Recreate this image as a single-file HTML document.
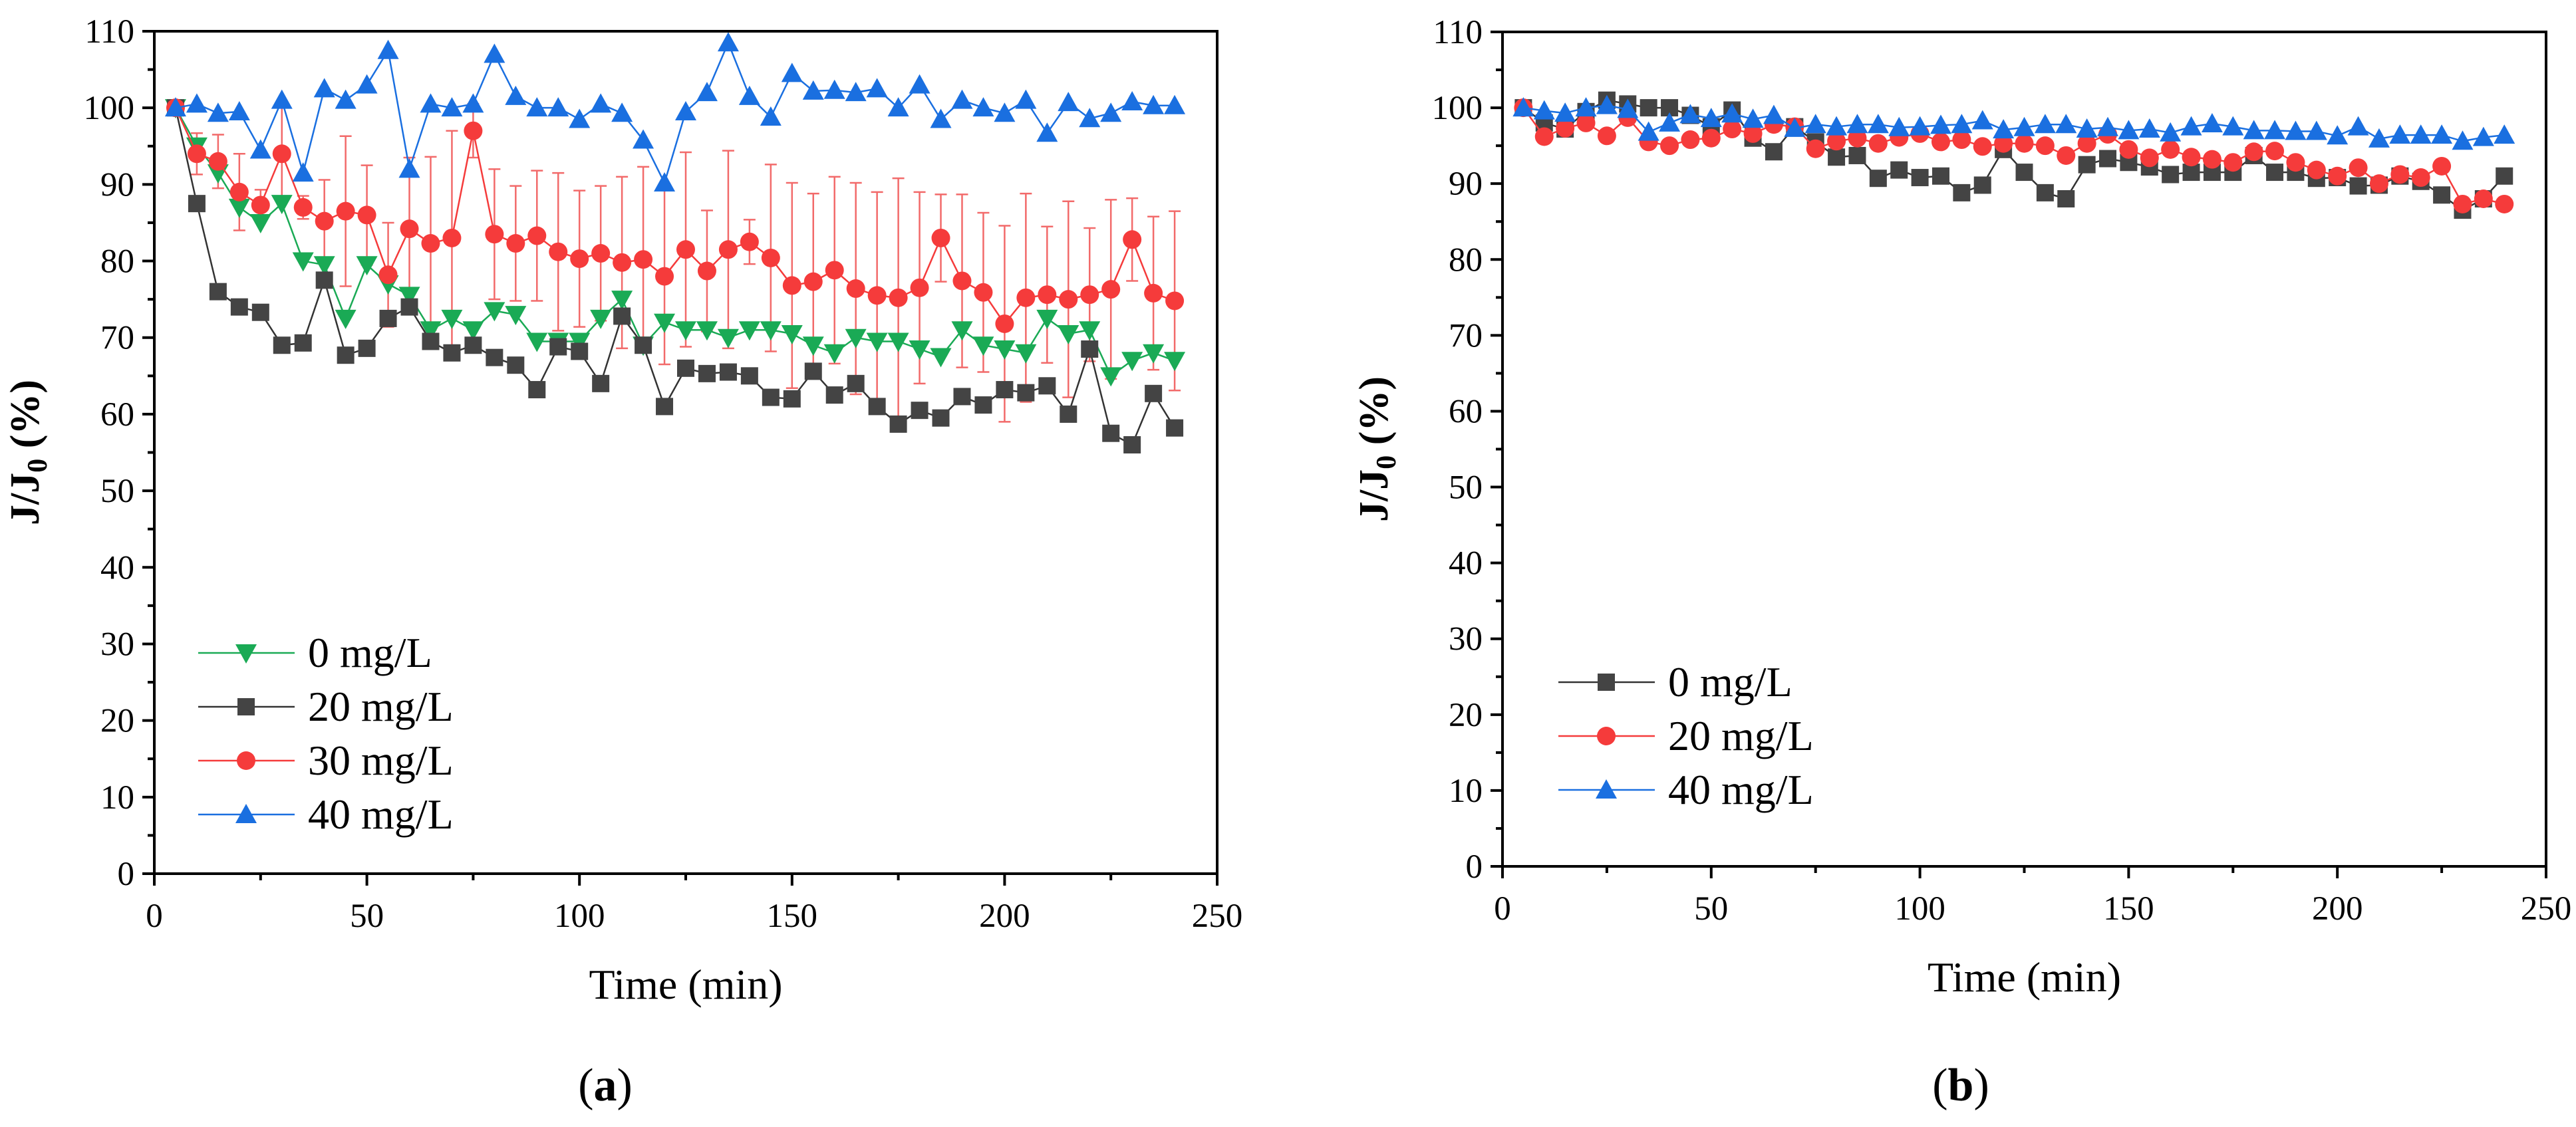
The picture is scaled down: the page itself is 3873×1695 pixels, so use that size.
<!DOCTYPE html>
<html><head><meta charset="utf-8"><style>
html,body{margin:0;padding:0;background:#fff;}
svg{display:block;font-family:"Liberation Serif",serif;}
</style></head><body>
<svg id="chart" width="3873" height="1695" viewBox="0 0 3873 1695" xmlns="http://www.w3.org/2000/svg"></svg>
<script>
const xValues=[5,10,15,20,25,30,35,40,45,50,55,60,65,70,75,80,85,90,95,100,105,110,115,120,125,130,135,140,145,150,155,160,165,170,175,180,185,190,195,200,205,210,215,220,225,230,235,240];
const xTicks=[0,50,100,150,200,250];
const yTicks=[0,10,20,30,40,50,60,70,80,90,100,110];
const a0=[100,95,91.5,87,85,87.5,80,79.5,72.5,79.5,77,75.5,71,72.5,71,73.5,73,69.5,69.5,69.5,72.5,75,69,72,71,71,70,71,71,70.5,69,68,70,69.5,69.5,68.5,67.5,71,69,68.5,68,72.5,70.5,71,65,67,68,67];
const a20=[100,87.5,76,74,73.3,69,69.3,77.5,67.7,68.6,72.5,74,69.5,68,69,67.4,66.4,63.2,68.8,68.2,64,72.8,69,61,66,65.3,65.5,65,62.2,62,65.6,62.5,64,61,58.7,60.5,59.5,62.3,61.2,63.2,62.8,63.7,60,68.5,57.5,56,62.7,58.2];
const a30=[100,94,93,89,87.3,94,87,85.2,86.5,86,78.2,84.2,82.3,83,97,83.5,82.3,83.3,81.2,80.3,81,79.8,80.2,78,81.5,78.7,81.5,82.5,80.4,76.8,77.3,78.8,76.4,75.5,75.2,76.5,83,77.4,75.9,71.8,75.2,75.6,75,75.6,76.3,82.8,75.8,74.8];
const a30err=[0,2.7,3.5,5,2,6,1.5,5.4,9.8,6.5,6.8,9.3,11.3,14,3.5,8.5,7.5,8.5,10.3,8.9,8.8,11.2,12.1,11.5,12.7,7.9,12.9,2.9,12.2,13.4,11.5,12.2,13.8,13.5,15.6,12.5,5.7,11.3,10.4,12.8,13.6,8.9,12.8,8.7,11.7,5.4,10,11.7];
const a40=[100,100.5,99.3,99.5,94.5,101,91.5,102.5,101,103,107.5,92,100.5,100,100.5,107,101.5,100,100,98.5,100.5,99.3,95.8,90.2,99.5,102,108.5,101.5,98.8,104.5,102.2,102.3,102,102.5,100,103,98.5,101,100,99.3,101,96.7,100.7,98.6,99.3,100.8,100.3,100.3];
const b0=[100,98,97.2,99.5,101,100.5,100,100,99,97.5,99.7,96,94.2,97.5,95.5,93.5,93.7,90.7,91.8,90.8,91,88.8,89.8,94.5,91.5,88.8,88,92.5,93.3,92.8,92.2,91.2,91.5,91.5,91.5,93.7,91.5,91.5,90.7,90.8,89.7,89.8,91,90.3,88.5,86.5,88,91];
const b20=[100,96.2,97.3,98,96.3,98.7,95.5,95,95.8,96,97.2,96.6,97.8,97.5,94.6,95.6,96,95.3,96.1,96.6,95.5,95.8,94.9,95.3,95.3,95,93.7,95.3,96.5,94.5,93.4,94.5,93.5,93.2,92.8,94.2,94.3,92.8,91.8,91,92.1,90,91.2,90.8,92.3,87.3,88,87.3];
const b40=[100,99.6,99.3,100,100.3,99.8,96.8,98,99.1,98.6,99.2,98.5,99,97.3,97.8,97.5,97.8,97.8,97.4,97.5,97.7,97.8,98.3,97.1,97.4,97.8,97.8,97.2,97.4,97,97.2,96.7,97.5,97.9,97.5,97,97,96.9,96.9,96.3,97.5,95.9,96.4,96.4,96.4,95.6,96.1,96.4];

const NS="http://www.w3.org/2000/svg";
const svg=document.getElementById('chart');
function mk(tag,attrs,parent,name){const e=document.createElementNS(NS,tag);for(const k in attrs)e.setAttribute(k,attrs[k]);


(parent||svg).appendChild(e);return e;}
function marker(g,shape,cx,cy,color,name){
  const s=13;
  if(shape==='sq') return mk('rect',{x:cx-s,y:cy-s,width:2*s,height:2*s,fill:color},g,name);
  if(shape==='ci') return mk('circle',{cx:cx,cy:cy,r:s+1,fill:color},g,name);
  if(shape==='up') return mk('polygon',{points:`${cx},${cy-s-3} ${cx-s-3},${cy+s} ${cx+s+3},${cy+s}`,fill:color},g,name);
  if(shape==='dn') return mk('polygon',{points:`${cx},${cy+s+3} ${cx-s-3},${cy-s} ${cx+s+3},${cy-s}`,fill:color},g,name);
}
function panel(P){
  const g=mk('g',{},svg,P.name);
  const X=v=>P.l+(v-0)/250*(P.r-P.l);
  const Y=v=>P.b-(v-0)/110*(P.b-P.t);
  P.series.forEach(s=>{ if(!s.err) return;
    s.data.forEach((v,i)=>{ if(!s.err[i]) return; const x=X(xValues[i]);
      mk('path',{d:`M${x},${Y(v-s.err[i])}V${Y(v+s.err[i])}M${x-9},${Y(v+s.err[i])}H${x+9}M${x-9},${Y(v-s.err[i])}H${x+9}`,stroke:s.light,'stroke-width':2.5,fill:'none'},g,'error-bar');});
  });
  P.series.forEach(s=>{
    const sg=mk('g',{},g,s.key+'-series');
    mk('polyline',{points:s.data.map((v,i)=>X(xValues[i])+','+Y(v)).join(' '),fill:'none',stroke:s.line,'stroke-width':2.5},sg,s.key+'-line');
    s.data.forEach((v,i)=>marker(sg,s.shape,X(xValues[i]),Y(v),s.color,s.key+'-point'));
  });
  mk('rect',{x:P.l,y:P.t,width:P.r-P.l,height:P.b-P.t,fill:'none',stroke:'#000','stroke-width':4},g,'plot-frame');
  xTicks.forEach(t=>{const x=X(t);mk('line',{x1:x,x2:x,y1:P.b,y2:P.b+18,stroke:'#000','stroke-width':4},g,'x-tick');
    const tx=mk('text',{x:x,y:P.b+80,'font-size':51,'text-anchor':'middle'},g,'x-tick-label');tx.textContent=t;
    if(t<250){const xm=X(t+25);mk('line',{x1:xm,x2:xm,y1:P.b,y2:P.b+10,stroke:'#000','stroke-width':4},g,'x-minor-tick');}});
  yTicks.forEach(t=>{const y=Y(t);mk('line',{x1:P.l-18,x2:P.l,y1:y,y2:y,stroke:'#000','stroke-width':4},g,'y-tick');
    const tx=mk('text',{x:P.l-30,y:y+17,'font-size':51,'text-anchor':'end'},g,'y-tick-label');tx.textContent=t;
    if(t<110){const ym=Y(t+5);mk('line',{x1:P.l-10,x2:P.l,y1:ym,y2:ym,stroke:'#000','stroke-width':4},g,'y-minor-tick');}});
  const xt=mk('text',{x:(P.l+P.r)/2,y:P.b+188,'font-size':64,'text-anchor':'middle'},g,'x-axis-title');xt.textContent='Time (min)';
  const yt=mk('text',{x:0,y:0,'font-size':62,'font-weight':'bold','text-anchor':'middle',transform:`translate(${P.yx},${(P.t+P.b)/2}) rotate(-90)`},g,'y-axis-title');
  yt.innerHTML='J/J<tspan font-size="42" dy="12">0</tspan><tspan dy="-12"> (%)</tspan>';
  P.series.forEach((s,i)=>{const y=P.legY+i*P.legDy;
    const lg=mk('g',{},g,'legend-entry');
    mk('line',{x1:P.legX,x2:P.legX+145,y1:y,y2:y,stroke:s.line,'stroke-width':2.5},lg,'legend-line');
    marker(lg,s.shape,P.legX+72,y,s.color,'legend-marker');
    const t=mk('text',{x:P.legX+165,y:y+21,'font-size':64},lg,'legend-label');t.textContent=s.label;});
  const pl=mk('text',{x:P.labX,y:1655,'font-size':70,'text-anchor':'middle'},g,'panel-label');
  pl.innerHTML='(<tspan font-weight="bold">'+P.lab+'</tspan>)';
}
panel({name:'panel-a',l:232,r:1830,t:47,b:1314,yx:58,legX:298,legY:982,legDy:81,labX:910,lab:'a',series:[
 {key:'0mgL',label:'0 mg/L',data:a0,shape:'dn',color:'#1aaa55',line:'#1aaa55'},
 {key:'20mgL',label:'20 mg/L',data:a20,shape:'sq',color:'#444',line:'#333'},
 {key:'30mgL',label:'30 mg/L',data:a30,err:a30err,shape:'ci',color:'#f53b3b',line:'#f53b3b',light:'#f26a6a'},
 {key:'40mgL',label:'40 mg/L',data:a40,shape:'up',color:'#1a6fe0',line:'#1a6fe0'}]});
panel({name:'panel-b',l:2259,r:3828,t:48,b:1303,yx:2086,legX:2343,legY:1026,legDy:81,labX:2948,lab:'b',series:[
 {key:'0mgL',label:'0 mg/L',data:b0,shape:'sq',color:'#444',line:'#333'},
 {key:'20mgL',label:'20 mg/L',data:b20,shape:'ci',color:'#f53b3b',line:'#f53b3b'},
 {key:'40mgL',label:'40 mg/L',data:b40,shape:'up',color:'#1a6fe0',line:'#1a6fe0'}]});
</script>
</body></html>
